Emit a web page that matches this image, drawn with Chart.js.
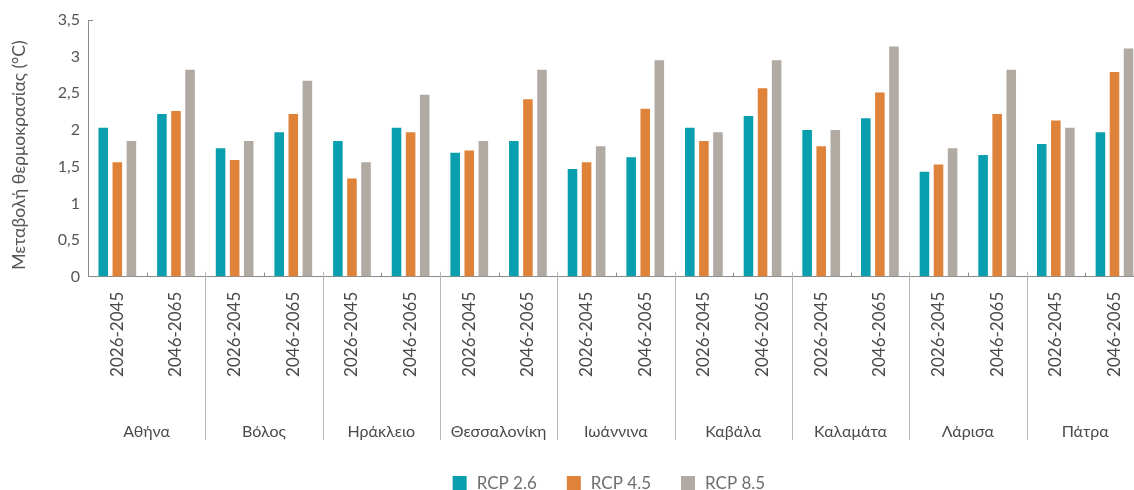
<!DOCTYPE html>
<html lang="el">
<head>
<meta charset="utf-8">
<title>Μεταβολή θερμοκρασίας</title>
<script src="https://cdn.jsdelivr.net/npm/chart.js@4.4.1/dist/chart.umd.min.js"></script>
<style>
    html, body { margin: 0; padding: 0; background: #fff; overflow: hidden; }
    #wrap { position: absolute; left: 0; top: 0; width: 1150px; height: 490px; }
</style>
</head>
<body>
<div id="wrap"><canvas id="tempChart"></canvas></div>
<script>
// δεδομένα
const cities = ['Αθήνα', 'Βόλος', 'Ηράκλειο', 'Θεσσαλονίκη', 'Ιωάννινα', 'Καβάλα', 'Καλαμάτα', 'Λάρισα', 'Πάτρα'];
const periods = ['2026-2045', '2046-2065'];
const seriesNames = ['RCP 2.6', 'RCP 4.5', 'RCP 8.5'];
const rcp26 = [2.03, 2.22, 1.75, 1.97, 1.85, 2.03, 1.69, 1.85, 1.47, 1.63, 2.03, 2.19, 2.00, 2.16, 1.43, 1.66, 1.81, 1.97];
const rcp45 = [1.56, 2.26, 1.59, 2.22, 1.34, 1.97, 1.72, 2.42, 1.56, 2.29, 1.85, 2.57, 1.78, 2.51, 1.53, 2.22, 2.13, 2.79];
const rcp85 = [1.85, 2.82, 1.85, 2.67, 1.56, 2.48, 1.85, 2.82, 1.78, 2.95, 1.97, 2.95, 2.00, 3.14, 1.75, 2.82, 2.03, 3.11];
const yTicks = [0, 0.5, 1, 1.5, 2, 2.5, 3, 3.5];
const yTitle = 'Μεταβολή θερμοκρασίας (°C)';

const FONT = 'Lato, "Open Sans", sans-serif';
const TEXT = '#4a4a4a';
const AXIS = '#8c8c8c';
const colors = ['#0a9fae', '#df823a', '#b1aaa2'];

const labels = cities.flatMap(() => periods);

// πόλεις, διαχωριστικά, τίτλος άξονα και υπόμνημα
const groupPlugin = {
    id: 'groups',
    afterDraw(chart) {
        const ctx = chart.ctx;
        const xs = chart.scales.x;
        const ys = chart.scales.y;
        const area = chart.chartArea;
        ctx.save();
        ctx.lineWidth = 1;

        // μικρό σημάδι στην κορυφή του άξονα y
        const yTop = Math.round(ys.getPixelForValue(yTicks[yTicks.length - 1])) + 0.5;
        ctx.strokeStyle = AXIS;
        ctx.beginPath();
        ctx.moveTo(area.left, yTop);
        ctx.lineTo(area.left + 5, yTop);
        ctx.stroke();

        // τίτλος άξονα y
        ctx.save();
        ctx.translate(19, 155);
        ctx.rotate(-Math.PI / 2);
        ctx.font = '17.5px ' + FONT;
        ctx.fillStyle = '#555';
        ctx.textAlign = 'center';
        ctx.textBaseline = 'middle';
        ctx.fillText(yTitle, 0, 0);
        ctx.restore();

        ctx.font = '16px ' + FONT;
        ctx.fillStyle = TEXT;
        ctx.textAlign = 'center';
        ctx.textBaseline = 'middle';
        cities.forEach((city, i) => {
            const a = xs.getPixelForValue(2 * i);
            const b = xs.getPixelForValue(2 * i + 1);
            ctx.fillText(city, (a + b) / 2, 432);

            // εσωτερικό σημάδι ανάμεσα στις δύο περιόδους
            const inner = Math.round((a + b) / 2) + 0.5;
            ctx.strokeStyle = AXIS;
            ctx.beginPath();
            ctx.moveTo(inner, area.bottom);
            ctx.lineTo(inner, area.bottom - 4);
            ctx.stroke();

            if (i > 0) {
                const prev = xs.getPixelForValue(2 * i - 1);
                const sep = Math.round((prev + a) / 2) + 0.5;
                ctx.strokeStyle = '#b8b8b8';
                ctx.beginPath();
                ctx.moveTo(sep, area.bottom - 5);
                ctx.lineTo(sep, 440);
                ctx.stroke();
            }
        });

        // υπόμνημα
        ctx.font = '17px ' + FONT;
        ctx.textAlign = 'left';
        const box = 14, gap = 10, spacing = 30;
        const sets = chart.data.datasets;
        const widths = sets.map(ds => box + gap + ctx.measureText(ds.label).width);
        const total = widths.reduce((s, w) => s + w, 0) + spacing * (sets.length - 1);
        let x = (area.left + area.right) / 2 - 7 - total / 2;
        const ly = 483;
        sets.forEach((ds, i) => {
            ctx.fillStyle = ds.backgroundColor;
            ctx.fillRect(x, ly - box / 2, box, box);
            ctx.fillStyle = '#6e6e6e';
            ctx.fillText(ds.label, x + box + gap, ly + 1);
            x += widths[i] + spacing;
        });
        ctx.restore();
    }
};

const ctx = document.getElementById('tempChart').getContext('2d');
new Chart(ctx, {
    type: 'bar',
    data: {
        labels: labels,
        datasets: [rcp26, rcp45, rcp85].map((values, i) => ({
            label: seriesNames[i],
            data: values,
            backgroundColor: colors[i],
            borderWidth: 0,
            categoryPercentage: 0.72,
            barPercentage: 0.68
        }))
    },
    options: {
        responsive: true,
        maintainAspectRatio: false,
        animation: false,
        layout: { padding: { top: 20, right: 4, left: 0, bottom: 0 } },
        plugins: {
            legend: { display: false },
            tooltip: { enabled: false }
        },
        scales: {
            x: {
                afterFit: scale => { scale.height = 213.3; },
                grid: { drawOnChartArea: false, drawTicks: false },
                border: { color: AXIS, width: 1 },
                ticks: {
                    minRotation: 90,
                    maxRotation: 90,
                    autoSkip: false,
                    padding: 15,
                    color: TEXT,
                    font: { family: FONT, size: 17 }
                }
            },
            y: {
                min: 0,
                max: 3.5,
                afterFit: scale => { scale.width = 88; },
                afterBuildTicks: scale => { scale.ticks = yTicks.map(v => ({ value: v })); },
                grid: { drawOnChartArea: false, drawTicks: false },
                border: { color: AXIS, width: 1 },
                ticks: {
                    padding: 8,
                    color: '#555',
                    font: { family: FONT, size: 16 },
                    callback: v => String(v).replace('.', ',')
                }
            }
        }
    },
    plugins: [groupPlugin]
});
</script>
</body>
</html>
